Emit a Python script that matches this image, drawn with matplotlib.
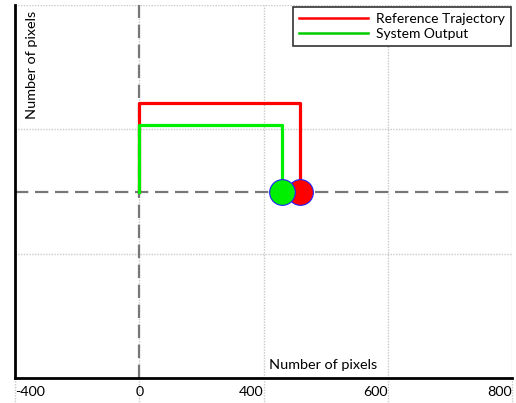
import matplotlib.pyplot as plt
from matplotlib.lines import Line2D

# tick positions (evenly spaced) and the labels printed under them
x_ticks = [-400, 0, 400, 800, 1200]
x_tick_labels = ["-400", "0", "400", "600", "800"]
y_grid = [-200, 200]

# reference trajectory and system output (step-like paths)
ref_x = [0, 0, 517, 517]
ref_y = [0, 284, 284, 0]
out_x = [0, 0, 459, 459]
out_y = [0, 214, 214, 0]

# current end points (the two dots)
ref_end = (519, 0)
out_end = (459, 0)

FONT = "Lato"

fig = plt.figure(figsize=(5.16, 4.03), dpi=100)
ax = fig.add_axes([15 / 516, 25 / 403, 497 / 516, 373 / 403])

ax.set_xlim(-400, 1200)
ax.set_ylim(-600, 600)

# dotted grid
for xv in x_ticks[1:]:
    ax.axvline(xv, color="#c8c8c8", lw=1, ls=(0, (1, 1)), zorder=0)
    ax.plot([xv, xv], [-600, -690], color="#c8c8c8", lw=1, ls=(0, (1, 1)), clip_on=False, zorder=0)
ax.plot([-400, -400], [-600, -690], color="#c8c8c8", lw=1, ls=(0, (1, 1)), clip_on=False, zorder=0)
for yv in y_grid + [600]:
    ax.axhline(yv, color="#c8c8c8", lw=1, ls=(0, (1, 1)), zorder=0)

# zero axes, dashed
ax.axhline(0, color="#777777", lw=1.6, ls=(0, (6, 3)), zorder=1)
ax.axvline(0, color="#777777", lw=1.6, ls=(0, (6, 3)), zorder=1)

ax.plot(ref_x, ref_y, color="#ff0000", lw=2.3, zorder=2)
ax.plot(out_x, out_y, color="#00ee00", lw=2.3, zorder=3)

ax.plot(*ref_end, "o", ms=18.5, color="#ff0000", mec="#2020ff", mew=0.8, zorder=4)
ax.plot(*out_end, "o", ms=18.5, color="#00ee00", mec="#2020ff", mew=0.8, zorder=5)

# axes frame
for side in ["top", "right"]:
    ax.spines[side].set_visible(False)
ax.spines["left"].set_linewidth(2)
ax.spines["bottom"].set_linewidth(2)

ax.set_yticks([])
ax.set_xticks(x_ticks)
ax.set_xticklabels(x_tick_labels, fontfamily=FONT, fontsize=10.3)
ax.tick_params(axis="x", length=0, pad=6)
aligns = ["left", "center", "right", "right", "right"]
for lab, ha in zip(ax.get_xticklabels(), aligns):
    lab.set_ha(ha)

ax.text(418, -558, "Number of pixels", fontfamily=FONT, fontsize=10.4, ha="left", va="center")
ax.text(-345, 580, "Number of pixels", fontfamily=FONT, fontsize=10.4, rotation=90,
        ha="center", va="top")

handles = [Line2D([], [], color="#ff0000", lw=1.8),
           Line2D([], [], color="#00cc00", lw=1.8)]
leg = ax.legend(handles, ["Reference Trajectory", "System Output"],
                loc="upper right", bbox_to_anchor=(511 / 516, 1 - 7 / 403),
                bbox_transform=fig.transFigure, fancybox=False, framealpha=1,
                edgecolor="#333333", borderpad=0.45, labelspacing=0.2,
                handlelength=5.0, handletextpad=0.55, borderaxespad=0,
                prop={"family": FONT, "size": 10})
leg.get_frame().set_linewidth(1.2)

fig.savefig("out.png", dpi=100)
